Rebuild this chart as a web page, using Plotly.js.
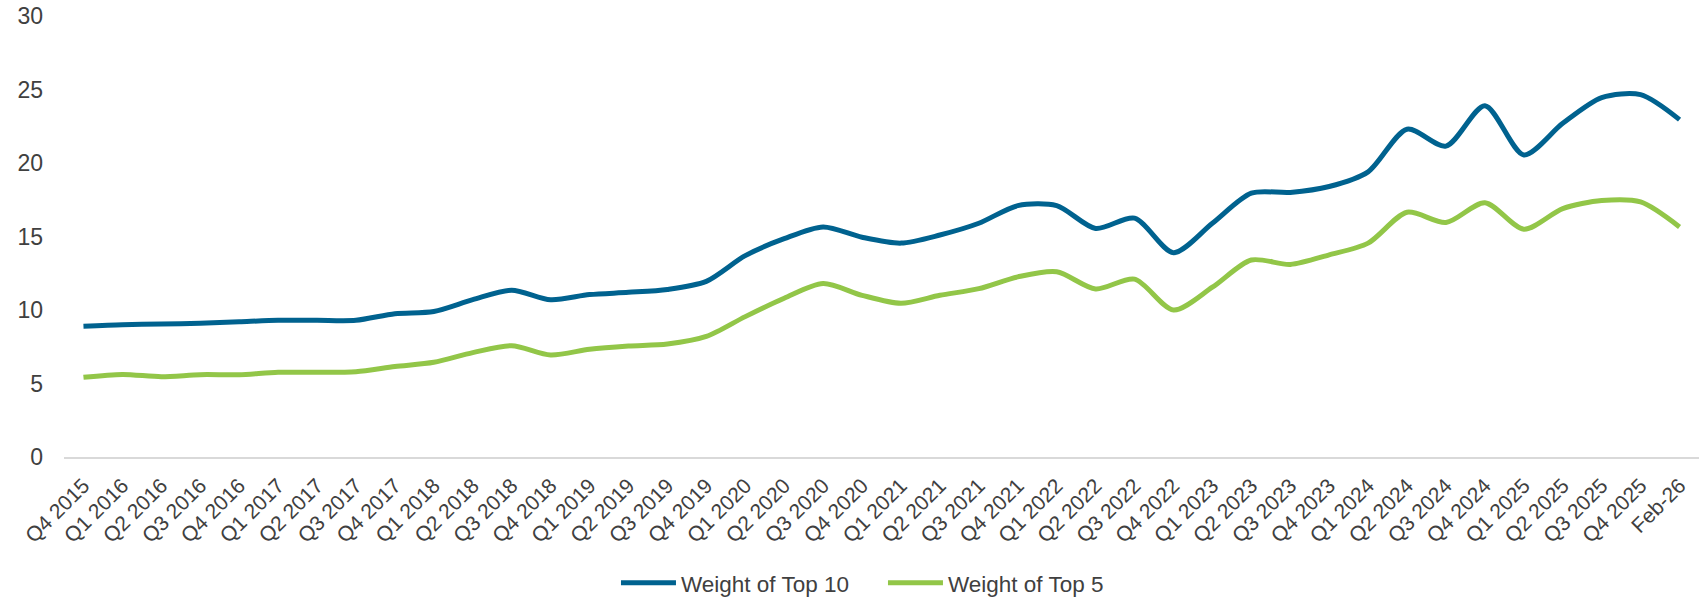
<!DOCTYPE html>
<html>
<head>
<meta charset="utf-8">
<script src="https://cdn.plot.ly/plotly-3.0.1.min.js"></script>
<style>
  html, body { margin: 0; padding: 0; background: #ffffff; }
  #chart { width: 1700px; height: 597px; }
</style>
</head>
<body>
<div id="chart"></div>
<script>
const categories = [
  "Q4 2015",
  "Q1 2016", "Q2 2016", "Q3 2016", "Q4 2016",
  "Q1 2017", "Q2 2017", "Q3 2017", "Q4 2017",
  "Q1 2018", "Q2 2018", "Q3 2018", "Q4 2018",
  "Q1 2019", "Q2 2019", "Q3 2019", "Q4 2019",
  "Q1 2020", "Q2 2020", "Q3 2020", "Q4 2020",
  "Q1 2021", "Q2 2021", "Q3 2021", "Q4 2021",
  "Q1 2022", "Q2 2022", "Q3 2022", "Q4 2022",
  "Q1 2023", "Q2 2023", "Q3 2023", "Q4 2023",
  "Q1 2024", "Q2 2024", "Q3 2024", "Q4 2024",
  "Q1 2025", "Q2 2025", "Q3 2025", "Q4 2025",
  "Feb-26"
];

const weightTop10 = [
  8.9,
  9.0, 9.05, 9.1, 9.2,
  9.3, 9.3, 9.3, 9.75,
  9.9, 10.7, 11.35, 10.7,
  11.05, 11.2, 11.4, 11.95,
  13.7, 14.85, 15.65, 14.95,
  14.55, 15.1, 15.9, 17.1,
  17.1, 15.55, 16.25, 13.9,
  15.9, 17.95, 18.0, 18.4,
  19.4, 22.3, 21.15, 23.9,
  20.55, 22.7, 24.45, 24.65,
  22.95
];

const weightTop5 = [
  5.42,
  5.62, 5.46, 5.6, 5.6,
  5.76, 5.76, 5.8, 6.15,
  6.44, 7.1, 7.57, 6.94,
  7.33, 7.55, 7.69, 8.2,
  9.55, 10.8, 11.8, 11.0,
  10.46, 11.0, 11.45, 12.25,
  12.6, 11.43, 12.1, 10.0,
  11.55, 13.4, 13.1, 13.75,
  14.55, 16.65, 15.95, 17.3,
  15.5, 16.9, 17.45, 17.35,
  15.65
];

const seriesNames = ["Weight of Top 10", "Weight of Top 5"];
const seriesColors = ["#00628F", "#92C648"];

const traces = [
  {
    x: categories, y: weightTop10, name: seriesNames[0], type: "scatter", mode: "lines",
    line: { color: seriesColors[0], width: 5, shape: "spline", smoothing: 0.8 },
    hoverinfo: "x+y+name"
  },
  {
    x: categories, y: weightTop5, name: seriesNames[1], type: "scatter", mode: "lines",
    line: { color: seriesColors[1], width: 5, shape: "spline", smoothing: 0.8 },
    hoverinfo: "x+y+name"
  }
];

const textColor = "#404040";
const fontFamily = "'Liberation Sans', Arial, sans-serif";

const layout = {
  width: 1700,
  height: 597,
  paper_bgcolor: "#ffffff",
  plot_bgcolor: "#ffffff",
  margin: { l: 64, r: 1, t: 16, b: 140, autoexpand: false },
  font: { family: fontFamily, color: textColor, size: 20 },
  showlegend: true,
  legend: {
    orientation: "h",
    x: 0.3376, xanchor: "left",
    y: -0.286, yanchor: "middle",
    font: { family: fontFamily, size: 22.5, color: textColor },
    itemwidth: 55,
    entrywidth: 197,
    entrywidthmode: "pixels",
    bgcolor: "rgba(0,0,0,0)"
  },
  xaxis: {
    type: "category",
    automargin: false,
    range: [-0.5, categories.length - 0.5],
    tickangle: -45,
    tickfont: { family: fontFamily, size: 21, color: textColor },
    showgrid: false,
    zeroline: false,
    showline: true,
    linecolor: "#d9d9d9",
    linewidth: 2,
    ticks: "",
    ticklabelstandoff: 6,
    fixedrange: true
  },
  yaxis: {
    automargin: false,
    range: [0, 30],
    dtick: 5,
    tick0: 0,
    showgrid: false,
    zeroline: false,
    showline: false,
    ticks: "",
    tickfont: { family: fontFamily, size: 23, color: textColor },
    ticklabelstandoff: 20,
    fixedrange: true
  }
};

Plotly.newPlot("chart", traces, layout, { displayModeBar: false, responsive: false });
</script>
</body>
</html>
